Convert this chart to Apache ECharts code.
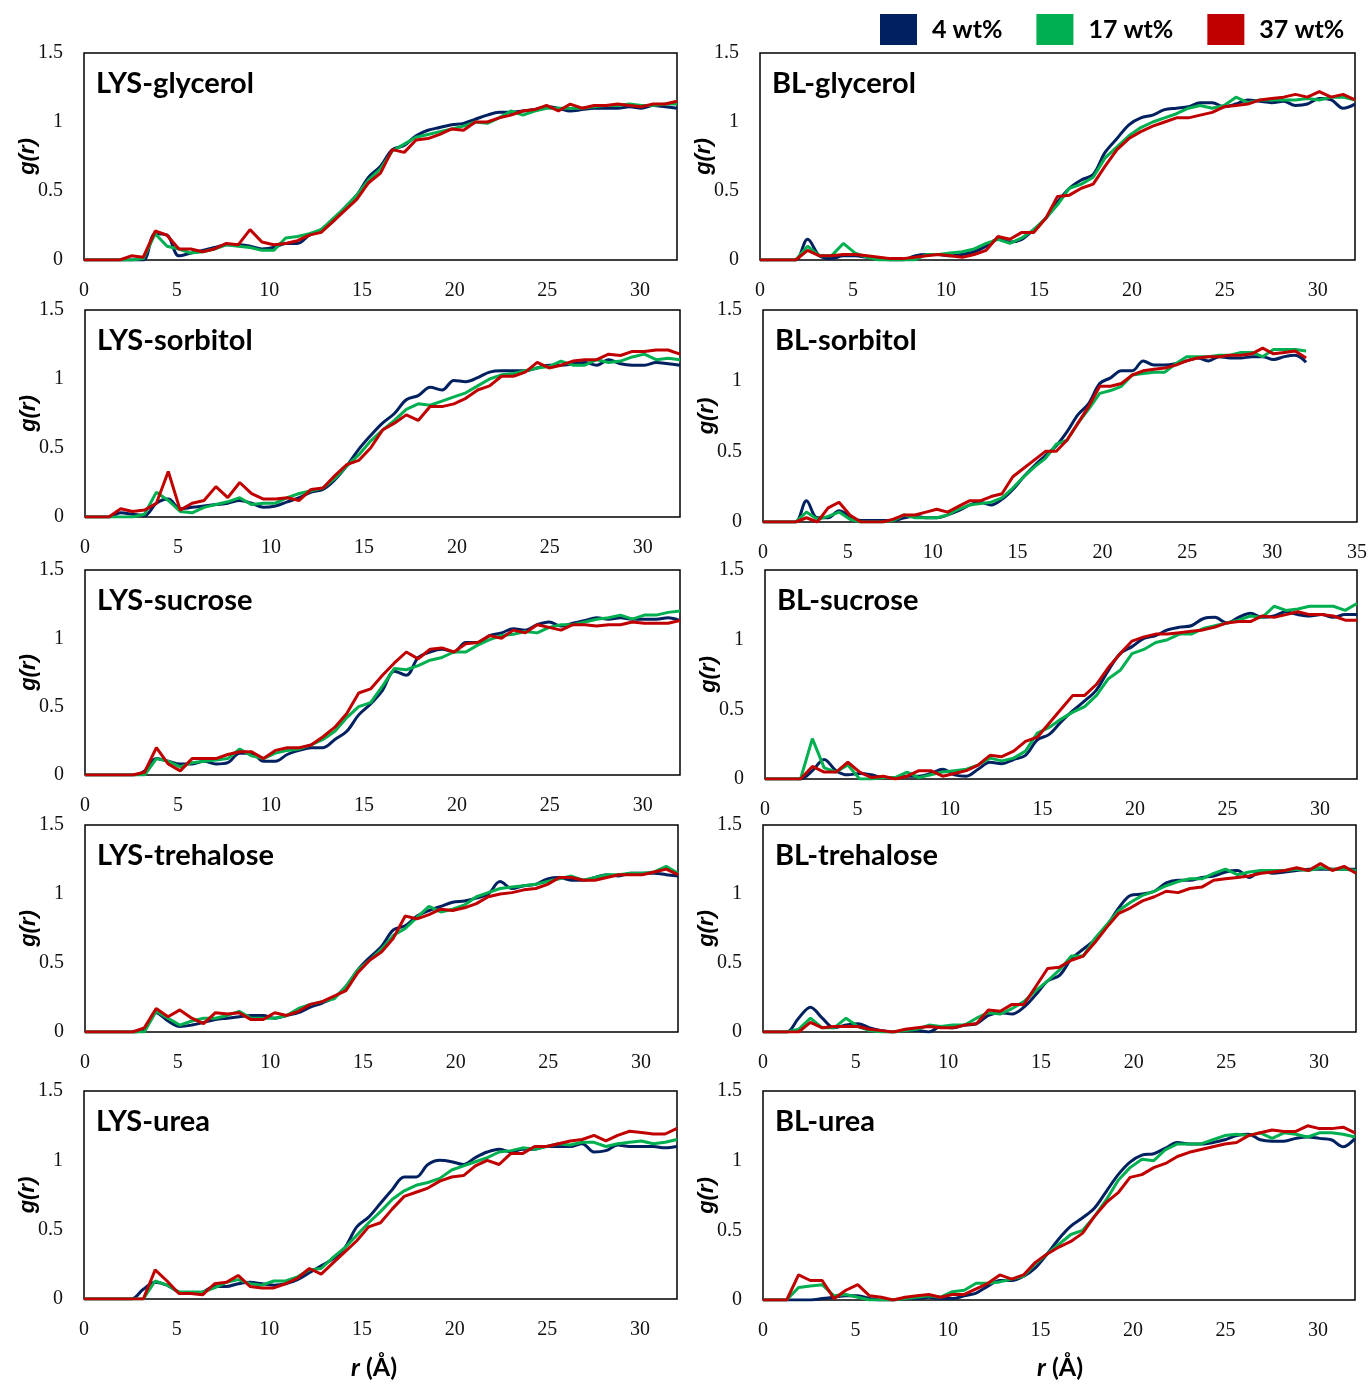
<!DOCTYPE html>
<html>
<head>
<meta charset="utf-8">
<title>g(r) of LYS and BL with cosolvents</title>
<script src="https://cdn.jsdelivr.net/npm/echarts@6/dist/echarts.min.js"></script>
<style>
  html, body { margin: 0; padding: 0; background: #fff; }
  #chart { width: 1372px; height: 1386px; }
</style>
</head>
<body>
<div id="chart"></div>
<script>
// distance grid (Å), shared by every curve
const r = [0, 0.64, 1.28, 1.92, 2.56, 3.2, 3.84, 4.48, 5.12, 5.76, 6.4, 7.04, 7.68, 8.32, 8.96, 9.6,
  10.24, 10.88, 11.52, 12.16, 12.8, 13.44, 14.08, 14.72, 15.36, 16, 16.64, 17.28, 17.92, 18.56, 19.2,
  19.84, 20.48, 21.12, 21.76, 22.4, 23.04, 23.68, 24.32, 24.96, 25.6, 26.24, 26.88, 27.52, 28.16,
  28.8, 29.44, 30.08, 30.72, 31.36, 32];

const concentrations = ['4 wt%', '17 wt%', '37 wt%'];
const colors = ['#002060', '#00B050', '#C00000'];

const xTicks = [0, 5, 10, 15, 20, 25, 30, 35];
const yTicks = [0, 0.5, 1, 1.5];

// LYS-glycerol
const lysGly4 = [0,0,0,0,0, 0,0.19,0.18,0.03,0.05, 0.07,0.09,0.11,0.11,0.1, 0.08,0.09,0.12,0.12,0.18, 0.22,0.28,0.38,0.47,0.6, 0.68,0.8,0.83,0.9,0.94, 0.96,0.98,0.99,1.02,1.05, 1.07,1.07,1.08,1.09,1.11, 1.1,1.08,1.09,1.1,1.1, 1.1,1.11,1.1,1.12,1.11, 1.1];
const lysGly17 = [0,0,0,0,0, 0.01,0.19,0.1,0.08,0.05, 0.06,0.08,0.11,0.1,0.09, 0.07,0.07,0.16,0.17,0.19, 0.22,0.3,0.38,0.47,0.58, 0.66,0.79,0.84,0.89,0.91, 0.93,0.95,0.97,1.0,0.99, 1.03,1.08,1.05,1.08,1.1, 1.1,1.1,1.1,1.11,1.12, 1.12,1.13,1.12,1.12,1.13, 1.13];
const lysGly37 = [0,0,0,0,0.03, 0.02,0.21,0.18,0.08,0.08, 0.06,0.08,0.12,0.11,0.22, 0.13,0.11,0.12,0.14,0.18, 0.2,0.28,0.36,0.44,0.56, 0.63,0.8,0.78,0.87,0.88, 0.91,0.95,0.94,1.0,1.0, 1.03,1.05,1.08,1.09,1.12, 1.08,1.13,1.1,1.12,1.12, 1.13,1.12,1.11,1.13,1.13, 1.15];

// BL-glycerol
const blGly4 = [0,0,0,0,0.15, 0.03,0.01,0.03,0.03,0.02, 0.01,0,0,0.03,0.04, 0.04,0.03,0.04,0.06,0.1, 0.15,0.13,0.15,0.22,0.3, 0.42,0.52,0.58,0.62,0.78, 0.88,0.98,1.03,1.05,1.09, 1.1,1.11,1.14,1.14,1.11, 1.13,1.16,1.15,1.14,1.15, 1.12,1.13,1.17,1.16,1.1, 1.13];
const blGly17 = [0,0,0,0,0.1, 0.03,0.03,0.12,0.05,0.02, 0,0,0,0,0.04, 0.04,0.05,0.06,0.08,0.12, 0.15,0.12,0.16,0.22,0.3, 0.4,0.52,0.55,0.6,0.74, 0.82,0.9,0.96,1.0,1.03, 1.06,1.1,1.12,1.1,1.12, 1.18,1.14,1.16,1.16,1.16, 1.16,1.17,1.16,1.18,1.18, 1.16];
const blGly37 = [0,0,0,0,0.07, 0.03,0.03,0.04,0.04,0.03, 0.02,0.01,0.01,0.02,0.03, 0.04,0.03,0.02,0.04,0.07, 0.17,0.15,0.2,0.2,0.3, 0.46,0.47,0.52,0.55,0.68, 0.8,0.88,0.93,0.97,1.0, 1.03,1.03,1.05,1.07,1.11, 1.12,1.13,1.16,1.17,1.18, 1.2,1.18,1.22,1.18,1.2, 1.16];

// LYS-sorbitol
const lysSor4 = [0,0,0,0.03,0.02, 0.01,0.1,0.13,0.06,0.07, 0.08,0.09,0.1,0.12,0.1, 0.07,0.08,0.11,0.14,0.18, 0.2,0.27,0.37,0.49,0.59, 0.68,0.75,0.85,0.88,0.94, 0.92,0.99,0.98,1.01,1.05, 1.06,1.06,1.06,1.08,1.1, 1.1,1.11,1.12,1.1,1.14, 1.11,1.1,1.1,1.12,1.11, 1.1];
const lysSor17 = [0,0,0,0,0, 0.02,0.18,0.12,0.04,0.03, 0.07,0.09,0.11,0.14,0.09, 0.1,0.1,0.14,0.17,0.19, 0.21,0.28,0.37,0.45,0.55, 0.63,0.7,0.78,0.82,0.81, 0.84,0.87,0.9,0.95,1.0, 1.03,1.04,1.06,1.08,1.09, 1.13,1.1,1.1,1.14,1.12, 1.13,1.16,1.18,1.14,1.15, 1.14];
const lysSor37 = [0,0,0,0.06,0.04, 0.05,0.1,0.33,0.05,0.1, 0.12,0.22,0.14,0.25,0.17, 0.13,0.13,0.14,0.12,0.2, 0.21,0.3,0.38,0.41,0.5, 0.63,0.68,0.74,0.7,0.8, 0.8,0.82,0.86,0.92,0.95, 1.02,1.02,1.05,1.12,1.08, 1.1,1.13,1.14,1.14,1.18, 1.17,1.2,1.2,1.21,1.21, 1.18];

// BL-sorbitol
const blSor4 = [0,0,0,0,0.15, 0.03,0.03,0.08,0.04,0.01, 0.01,0.01,0.01,0.03,0.04, 0.03,0.03,0.05,0.08,0.12, 0.14,0.12,0.16,0.23,0.32, 0.4,0.47,0.54,0.64,0.76, 0.84,0.98,1.02,1.07,1.07, 1.14,1.11,1.11,1.12,1.14, 1.16,1.14,1.17,1.16,1.16, 1.17,1.17,1.15,1.17,1.18, 1.13];
const blSor17 = [0,0,0,0,0.07, 0.02,0.04,0.07,0.02,0, 0,0,0.01,0.05,0.03, 0.03,0.03,0.05,0.09,0.12, 0.13,0.14,0.17,0.24,0.32, 0.39,0.45,0.55,0.58,0.7, 0.8,0.91,0.93,0.96,1.04, 1.05,1.06,1.06,1.12,1.17, 1.17,1.17,1.18,1.18,1.2, 1.2,1.17,1.22,1.22,1.22, 1.21];
const blSor37 = [0,0,0,0,0.03, 0,0.1,0.14,0.05,0, 0,0,0.02,0.05,0.05, 0.07,0.09,0.07,0.11,0.15, 0.15,0.18,0.2,0.32,0.38, 0.44,0.5,0.5,0.58,0.7, 0.82,0.96,0.96,0.98,1.04, 1.07,1.08,1.09,1.11,1.14, 1.16,1.17,1.17,1.18,1.18, 1.19,1.23,1.19,1.2,1.21, 1.16];

// LYS-sucrose
const lysSuc4 = [0,0,0,0,0, 0.03,0.12,0.1,0.08,0.08, 0.1,0.08,0.09,0.16,0.16, 0.1,0.1,0.15,0.18,0.2, 0.2,0.26,0.32,0.44,0.52, 0.62,0.76,0.73,0.86,0.9, 0.92,0.9,0.97,0.97,1.02, 1.04,1.07,1.06,1.1,1.12, 1.09,1.11,1.13,1.15,1.14, 1.15,1.14,1.14,1.14,1.15, 1.13];
const lysSuc17 = [0,0,0,0,0, 0,0.12,0.1,0.06,0.09, 0.1,0.11,0.12,0.19,0.14, 0.12,0.16,0.18,0.19,0.22, 0.26,0.32,0.42,0.5,0.53, 0.65,0.78,0.77,0.8,0.84, 0.86,0.9,0.9,0.95,0.99, 1.02,1.03,1.05,1.04,1.08, 1.1,1.1,1.12,1.14,1.15, 1.17,1.14,1.17,1.17,1.19, 1.2];
const lysSuc37 = [0,0,0,0,0, 0.02,0.2,0.08,0.03,0.12, 0.12,0.12,0.15,0.17,0.17, 0.12,0.18,0.2,0.2,0.22, 0.28,0.35,0.45,0.6,0.63, 0.73,0.82,0.9,0.85,0.92, 0.93,0.9,0.96,0.97,1.02, 1.0,1.06,1.04,1.1,1.08, 1.06,1.1,1.1,1.09,1.1, 1.1,1.12,1.11,1.11,1.11, 1.13];

// BL-sucrose
const blSuc4 = [0,0,0,0,0.06, 0.14,0.06,0.03,0.04,0.03, 0.01,0.01,0.02,0.02,0.04, 0.07,0.03,0.02,0.07,0.12, 0.11,0.14,0.17,0.28,0.32, 0.41,0.49,0.56,0.64,0.78, 0.9,0.95,1.01,1.03,1.07, 1.09,1.1,1.15,1.16,1.12, 1.16,1.19,1.16,1.17,1.2, 1.18,1.17,1.18,1.16,1.18, 1.18];
const blSuc17 = [0,0,0,0,0.29, 0.08,0.05,0.1,0,0, 0.01,0.01,0.05,0.01,0.03, 0.05,0.06,0.07,0.1,0.15, 0.13,0.15,0.2,0.33,0.37, 0.43,0.48,0.52,0.6,0.72, 0.78,0.9,0.93,0.98,1.0, 1.04,1.04,1.08,1.1,1.12, 1.14,1.17,1.16,1.24,1.21, 1.22,1.24,1.24,1.24,1.21, 1.26];
const blSuc37 = [0,0,0,0,0.09, 0.05,0.05,0.12,0.05,0.01, 0.02,0,0.02,0.06,0.06, 0.02,0.04,0.06,0.1,0.17, 0.16,0.2,0.27,0.3,0.4, 0.5,0.6,0.6,0.68,0.8, 0.9,0.99,1.02,1.04,1.04, 1.05,1.06,1.07,1.09,1.12, 1.13,1.13,1.17,1.16,1.18, 1.2,1.18,1.18,1.17,1.14, 1.14];

// LYS-trehalose
const lysTre4 = [0,0,0,0,0, 0.02,0.14,0.08,0.04,0.05, 0.07,0.09,0.1,0.11,0.12, 0.12,0.1,0.12,0.14,0.18, 0.21,0.25,0.33,0.45,0.54, 0.62,0.74,0.77,0.84,0.88, 0.91,0.94,0.95,0.97,1.0, 1.09,1.04,1.06,1.07,1.11, 1.12,1.1,1.1,1.12,1.14, 1.13,1.15,1.15,1.15,1.14, 1.13];
const lysTre17 = [0,0,0,0,0, 0,0.15,0.1,0.05,0.08, 0.1,0.1,0.12,0.15,0.1, 0.1,0.1,0.12,0.17,0.2, 0.22,0.24,0.33,0.45,0.52, 0.6,0.7,0.75,0.83,0.91, 0.87,0.89,0.92,0.98,1.01, 1.04,1.05,1.06,1.07,1.09, 1.11,1.13,1.1,1.12,1.14, 1.14,1.15,1.15,1.16,1.2, 1.15];
const lysTre37 = [0,0,0,0,0, 0.03,0.17,0.11,0.16,0.1, 0.06,0.14,0.13,0.14,0.09, 0.09,0.14,0.12,0.15,0.2, 0.22,0.26,0.3,0.43,0.52, 0.58,0.68,0.84,0.82,0.85, 0.89,0.88,0.9,0.93,0.98, 1.0,1.01,1.03,1.04,1.07, 1.12,1.12,1.1,1.1,1.12, 1.14,1.14,1.14,1.16,1.18, 1.14];

// BL-trehalose
const blTre4 = [0,0,0,0.1,0.18, 0.1,0.03,0.05,0.06,0.03, 0.01,0,0.01,0.01,0, 0.04,0.03,0.05,0.06,0.12, 0.14,0.13,0.18,0.27,0.37, 0.41,0.53,0.6,0.67,0.77, 0.9,0.99,1.0,1.02,1.08, 1.1,1.1,1.12,1.13,1.16, 1.17,1.12,1.17,1.15,1.16, 1.17,1.18,1.18,1.18,1.18, 1.18];
const blTre17 = [0,0,0,0.02,0.1, 0.03,0.03,0.1,0.04,0.01, 0,0,0.01,0.02,0.05, 0.04,0.05,0.05,0.1,0.14, 0.13,0.17,0.22,0.3,0.37, 0.45,0.55,0.55,0.68,0.78, 0.88,0.94,0.99,1.02,1.06, 1.09,1.11,1.11,1.15,1.18, 1.14,1.16,1.17,1.17,1.17, 1.18,1.17,1.19,1.18,1.18, 1.17];
const blTre37 = [0,0,0,0,0.07, 0.03,0.04,0.04,0.04,0.02, 0.01,0,0.02,0.03,0.04, 0.03,0.03,0.05,0.06,0.16, 0.15,0.2,0.2,0.33,0.46, 0.47,0.52,0.55,0.65,0.76, 0.86,0.9,0.95,0.98,1.02, 1.01,1.04,1.05,1.1,1.11, 1.12,1.13,1.15,1.16,1.17, 1.19,1.17,1.22,1.17,1.2, 1.15];

// LYS-urea
const lysUrea4 = [0,0,0,0,0, 0.07,0.12,0.1,0.05,0.04, 0.05,0.09,0.09,0.11,0.12, 0.11,0.1,0.11,0.14,0.19, 0.24,0.29,0.37,0.52,0.59, 0.69,0.79,0.88,0.88,0.97, 1.0,0.99,0.97,1.02,1.06, 1.08,1.06,1.08,1.08,1.1, 1.1,1.1,1.12,1.06,1.07, 1.11,1.1,1.1,1.1,1.09, 1.1];
const lysUrea17 = [0,0,0,0,0, 0,0.13,0.1,0.05,0.05, 0.05,0.08,0.12,0.14,0.11, 0.1,0.13,0.13,0.16,0.21, 0.22,0.3,0.37,0.46,0.55, 0.63,0.72,0.78,0.82,0.84, 0.87,0.93,0.96,0.99,1.02, 1.06,1.07,1.09,1.08,1.1, 1.12,1.11,1.13,1.13,1.1, 1.12,1.13,1.14,1.12,1.13, 1.15];
const lysUrea37 = [0,0,0,0,0, 0,0.21,0.13,0.04,0.04, 0.03,0.11,0.12,0.17,0.09, 0.08,0.08,0.11,0.15,0.22, 0.18,0.26,0.34,0.42,0.52, 0.55,0.65,0.74,0.77,0.8, 0.85,0.88,0.89,0.96,1.0, 0.97,1.05,1.05,1.1,1.1, 1.12,1.14,1.15,1.18,1.14, 1.18,1.21,1.2,1.19,1.19, 1.23];

// BL-urea
const blUrea4 = [0,0,0,0,0, 0.01,0.02,0.03,0.03,0.01, 0,0,0.01,0.01,0.02, 0.01,0.01,0.03,0.05,0.1, 0.14,0.14,0.17,0.23,0.33, 0.44,0.53,0.59,0.66,0.78, 0.9,0.99,1.04,1.05,1.09, 1.13,1.12,1.12,1.13,1.15, 1.18,1.19,1.15,1.14,1.14, 1.16,1.17,1.16,1.15,1.1, 1.16];
const blUrea17 = [0,0,0,0.09,0.1, 0.11,0.03,0.04,0.02,0, 0,0,0.01,0.02,0.03, 0.02,0.06,0.07,0.12,0.12, 0.13,0.15,0.17,0.26,0.33, 0.4,0.47,0.5,0.6,0.72, 0.86,0.95,1.01,1.0,1.08, 1.12,1.12,1.12,1.15,1.18, 1.19,1.18,1.2,1.16,1.2, 1.19,1.17,1.2,1.2,1.19, 1.17];
const blUrea37 = [0,0,0,0.18,0.14, 0.14,0.01,0.07,0.11,0.03, 0.02,0,0.02,0.03,0.04, 0.02,0.04,0.04,0.08,0.12, 0.18,0.15,0.18,0.27,0.33, 0.38,0.42,0.48,0.6,0.7, 0.77,0.88,0.9,0.95,0.98, 1.03,1.06,1.08,1.1,1.12, 1.13,1.18,1.2,1.22,1.21, 1.21,1.25,1.23,1.23,1.24, 1.2];

// panels, left column then right column, row by row
const panels = [
  { title: 'LYS-glycerol',  curves: [lysGly4, lysGly17, lysGly37],    xMax: 32 },
  { title: 'BL-glycerol',   curves: [blGly4, blGly17, blGly37],       xMax: 32 },
  { title: 'LYS-sorbitol',  curves: [lysSor4, lysSor17, lysSor37],    xMax: 32 },
  { title: 'BL-sorbitol',   curves: [blSor4, blSor17, blSor37],       xMax: 35 },
  { title: 'LYS-sucrose',   curves: [lysSuc4, lysSuc17, lysSuc37],    xMax: 32 },
  { title: 'BL-sucrose',    curves: [blSuc4, blSuc17, blSuc37],       xMax: 32 },
  { title: 'LYS-trehalose', curves: [lysTre4, lysTre17, lysTre37],    xMax: 32 },
  { title: 'BL-trehalose',  curves: [blTre4, blTre17, blTre37],       xMax: 32 },
  { title: 'LYS-urea',      curves: [lysUrea4, lysUrea17, lysUrea37], xMax: 32 },
  { title: 'BL-urea',       curves: [blUrea4, blUrea17, blUrea37],    xMax: 32 }
];

// plot-area boxes in page pixels
const boxes = [
  { left: 84,  top: 53,   width: 593, height: 207 },
  { left: 760, top: 53,   width: 595, height: 207 },
  { left: 85,  top: 310,  width: 595, height: 207 },
  { left: 763, top: 310,  width: 594, height: 212 },
  { left: 85,  top: 570,  width: 595, height: 205 },
  { left: 765, top: 570,  width: 592, height: 209 },
  { left: 85,  top: 825,  width: 593, height: 207 },
  { left: 763, top: 825,  width: 593, height: 207 },
  { left: 84,  top: 1091, width: 593, height: 208 },
  { left: 763, top: 1091, width: 592, height: 209 }
];

const tickFont = { fontFamily: '"Liberation Serif", "Times New Roman", serif', fontSize: 20, color: '#111' };

const grid = [], xAxis = [], yAxis = [], series = [], graphic = [];

panels.forEach((p, k) => {
  const b = boxes[k];
  grid.push({
    left: b.left, top: b.top, width: b.width, height: b.height,
    show: true, borderColor: '#000', borderWidth: 1.5, backgroundColor: 'transparent'
  });
  xAxis.push({
    gridIndex: k, type: 'value', min: 0, max: p.xMax, interval: 5,
    axisLine: { show: false }, axisTick: { show: false }, splitLine: { show: false },
    axisLabel: Object.assign({ margin: 21, showMaxLabel: xTicks.includes(p.xMax) }, tickFont)
  });
  yAxis.push({
    gridIndex: k, type: 'value', min: yTicks[0], max: yTicks[yTicks.length - 1], interval: 0.5,
    axisLine: { show: false }, axisTick: { show: false }, splitLine: { show: false },
    axisLabel: Object.assign({ margin: 21 }, tickFont)
  });
  p.curves.forEach((vals, j) => {
    series.push({
      name: concentrations[j], type: 'line', xAxisIndex: k, yAxisIndex: k,
      data: r.map((x, i) => [x, vals[i]]),
      showSymbol: false, smooth: j === 0 ? 0.35 : false,
      color: colors[j],
      lineStyle: { width: 3, color: colors[j] },
      z: 2 + j, silent: true, animation: false
    });
  });
  // panel caption
  graphic.push({
    type: 'text', left: b.left + 12, top: b.top + 16,
    style: { text: p.title, fontFamily: 'Lato, "Noto Sans", sans-serif', fontWeight: 'bold', fontSize: 29, fill: '#000' }
  });
  // y axis title
  graphic.push({
    type: 'text', x: b.left - 56, y: b.top + b.height / 2, rotation: Math.PI / 2,
    style: {
      text: 'g(r)', fontFamily: '"Liberation Sans", Arial, sans-serif', fontWeight: 'bold', fontStyle: 'italic',
      fontSize: 22, fill: '#000', align: 'center', verticalAlign: 'middle'
    }
  });
});

// x axis titles under each column
[374, 1060].forEach(cx => {
  graphic.push({
    type: 'text', x: cx, y: 1368,
    style: {
      text: '{i|r} (Å)', align: 'center', verticalAlign: 'middle',
      fontFamily: 'Lato, "Noto Sans", sans-serif', fontWeight: 'bold', fontSize: 25, fill: '#000',
      rich: { i: { fontStyle: 'italic', fontWeight: 'bold', fontFamily: 'Lato, "Noto Sans", sans-serif', fontSize: 25, fill: '#000' } }
    }
  });
});

const chart = echarts.init(document.getElementById('chart'), null, { renderer: 'canvas' });
chart.setOption({
  animation: false,
  backgroundColor: '#fff',
  legend: {
    data: concentrations, left: 880, top: 14, padding: 0, itemWidth: 37, itemHeight: 31, itemGap: 34,
    icon: 'rect',
    textStyle: { fontFamily: 'Lato, "Noto Sans", sans-serif', fontWeight: 'bold', fontSize: 25, color: '#000', padding: [0, 0, 0, 10] }
  },
  grid, xAxis, yAxis, series, graphic
});
</script>
</body>
</html>
